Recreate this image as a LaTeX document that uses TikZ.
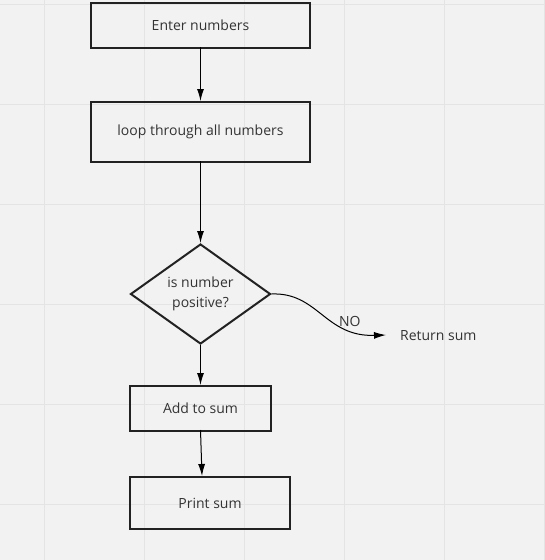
\documentclass[tikz,border=0pt]{standalone}
\usepackage{fontspec}
\setmainfont{Open Sans}
\usetikzlibrary{shapes.geometric,arrows.meta}
\definecolor{bgc}{HTML}{F2F2F2}
\definecolor{gridc}{HTML}{E4E4E4}
\definecolor{txt}{HTML}{333333}
\definecolor{edge}{HTML}{222222}
\begin{document}
\begin{tikzpicture}[x=1pt,y=-1pt,
  every node/.style={font=\fontsize{14}{20}\selectfont, text=txt},
  proc/.style={draw=edge, line width=2pt, rectangle, inner sep=0pt},
  decide/.style={draw=edge, line width=2pt, diamond, aspect=1.4, inner sep=0pt,
     minimum width=140pt, minimum height=100pt, align=center},
  conn/.style={draw=black, line width=1pt, -{Latex[length=12pt,width=7pt]}}]
\useasboundingbox (0,0) rectangle (545,560);
\fill[bgc] (0,0) rectangle (545,560);
\foreach \gx in {44,144,244,344,444,544} \draw[gridc, line width=1pt] (\gx,0) -- (\gx,560);
\foreach \gy in {4,104,204,304,404,504} \draw[gridc, line width=1pt] (0,\gy) -- (545,\gy);

\node[proc, minimum width=219pt, minimum height=45pt] (enter) at (200.5,25.5) {Enter numbers};
\node[proc, minimum width=219pt, minimum height=60pt] (loop) at (200.5,132) {loop through all numbers};
\node[decide] (pos) at (200.5,294) {is number\\positive?};
\node[proc, minimum width=141pt, minimum height=45pt] (add) at (200.5,408.5) {Add to sum};
\node[proc, minimum width=160pt, minimum height=52pt] (print) at (210,503) {Print sum};
\node[anchor=west, inner sep=0pt] (ret) at (400,335.5) {Return sum};
\coordinate (rettip) at (386,335);

\draw[conn] ([yshift=2pt]enter.south) -- (loop.north);
\draw[conn] ([yshift=2pt]loop.south) -- (pos.north);
\draw[conn] (pos.south) -- (add.north);
\draw[conn] ([yshift=2pt]add.south) -- ([xshift=-8pt]print.north);
\draw[conn] (pos.east) .. controls (318,292) and (325,337) .. node[pos=0.75, above=1pt, xshift=1pt, inner sep=1pt] {NO} (rettip);
\end{tikzpicture}
\end{document}
